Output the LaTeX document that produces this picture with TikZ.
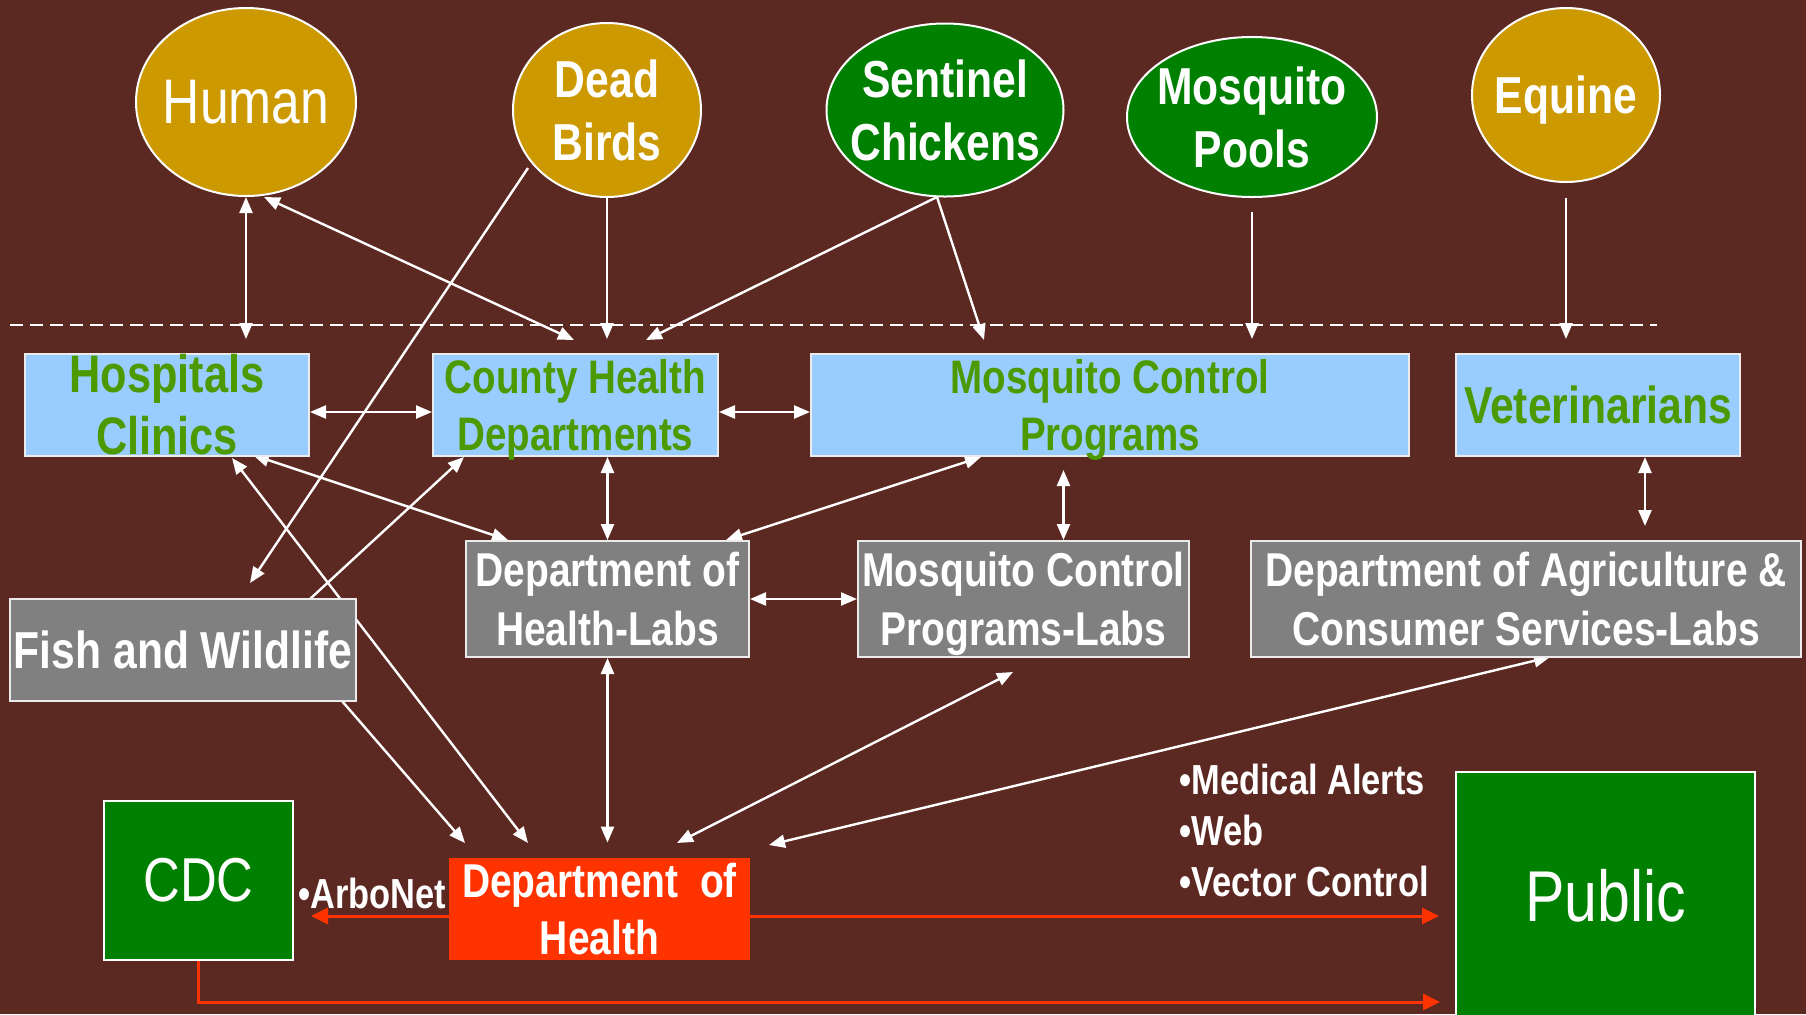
\documentclass[tikz,border=0pt]{standalone}
\usepackage{fontspec}
\newfontfamily\nar[FakeStretch=0.82]{Liberation Sans}
\usetikzlibrary{shapes.geometric,arrows.meta}
\definecolor{bgc}{RGB}{92,40,34}
\definecolor{gold}{RGB}{204,153,0}
\definecolor{dgreen}{RGB}{0,128,0}
\definecolor{lblue}{RGB}{153,204,255}
\definecolor{tgreen}{RGB}{76,153,0}
\definecolor{boxgray}{RGB}{128,128,128}
\definecolor{dohred}{RGB}{255,51,0}
\definecolor{edgec}{RGB}{235,235,235}
\newcommand\myfs[2]{\fontsize{#1}{#2}\selectfont}
\newcommand\nodp[1]{\raisebox{0pt}[\height][0pt]{#1}}
\pgfdeclarelayer{back}
\pgfdeclarelayer{lines}
\pgfsetlayers{back,lines,main}
\tikzset{
  ell/.style={ellipse, draw=white, line width=1pt, inner sep=-40pt, text=white, align=center},
  bluebox/.style={rectangle, draw=edgec, fill=lblue, line width=1pt, inner sep=-10pt, text=tgreen, align=center},
  graybox/.style={rectangle, draw=edgec, fill=boxgray, line width=1pt, inner sep=-10pt, text=white, align=center},
  ellfont/.style={font=\nar\bfseries\myfs{26}{31.5}},
  wl/.style={draw=white, line width=1.2pt},
  wboth/.style={wl, {Triangle[length=8pt,width=6.5pt]}-{Triangle[length=8pt,width=6.5pt]}},
  wone/.style={wl, -{Triangle[length=8pt,width=6.5pt]}},
  redl/.style={draw=dohred, line width=1.5pt},
  redarr/.style={redl, -{Triangle[length=8.5pt,width=8pt]}},
  lbl/.style={inner sep=0pt, text=white, font=\nar\bfseries\myfs{21}{25.5}}
}
\begin{document}
\begin{tikzpicture}[x=0.5pt, y=-0.5pt]
\useasboundingbox (0,0) rectangle (1806,1014);
\begin{pgfonlayer}{back}
\fill[bgc] (0,0) rectangle (1806,1014);
\end{pgfonlayer}

% top ellipses
\node[ell, fill=gold, minimum width=110pt, minimum height=94pt, font=\nar\myfs{31.5}{36}] (human) at (246,102) {Human};
\node[ell, ellfont, fill=gold, minimum width=94pt, minimum height=87pt] (birds) at (607,110) {Dead\\Birds};
\node[ell, ellfont, fill=dgreen, minimum width=118.5pt, minimum height=86.5pt] (sentinel) at (945,110) {Sentinel\\Chickens};
\node[ell, ellfont, fill=dgreen, minimum width=125pt, minimum height=80pt] (pools) at (1252,117) {Mosquito\\Pools};
\node[ell, ellfont, fill=gold, minimum width=94pt, minimum height=87pt, text depth=0pt] (equine) at (1566,95) {Equine};

% blue boxes
\node[bluebox, minimum width=142pt, minimum height=51pt, font=\nar\bfseries\myfs{26.4}{31}] (hosp) at (167,405) {Hospitals\\Clinics};
\node[bluebox, minimum width=142.5pt, minimum height=51pt, font=\nar\bfseries\myfs{23.5}{28.5}] (county) at (575.5,405) {County Health\\\nodp{Departments}};
\node[bluebox, minimum width=299pt, minimum height=51pt, font=\nar\bfseries\myfs{23.5}{28.5}] (mcp) at (1110,405) {Mosquito Control\\\nodp{Programs}};
\node[bluebox, minimum width=142pt, minimum height=51pt, font=\nar\bfseries\myfs{26}{31}] (vet) at (1598,405) {Veterinarians};

% gray boxes
\node[graybox, minimum width=141.5pt, minimum height=58pt, font=\nar\bfseries\myfs{23.75}{29.5}] (dhl) at (607.5,599) {Department of\\Health-Labs};
\node[graybox, minimum width=165.5pt, minimum height=58pt, font=\nar\bfseries\myfs{23.75}{29.5}] (mcpl) at (1023.5,599) {Mosquito Control\\\nodp{Programs-Labs}};
\node[graybox, minimum width=275pt, minimum height=58pt, font=\nar\bfseries\myfs{23.75}{29.5}] (dacs) at (1526,599) {Department of Agriculture \&\\Consumer Services-Labs};
\node[graybox, minimum width=173pt, minimum height=51pt, font=\nar\bfseries\myfs{26}{31}] (fish) at (183,650) {Fish and Wildlife};

% bottom boxes
\node[rectangle, fill=dgreen, draw=white, line width=1pt, inner sep=-10pt, minimum width=94.5pt, minimum height=79.5pt, text=white, font=\nar\myfs{31}{36}] (cdc) at (198.5,880.5) {CDC};
\node[rectangle, fill=dohred, inner sep=-10pt, minimum width=150.5pt, minimum height=51pt, text=white, align=center, font=\nar\bfseries\myfs{23.75}{28.5}] (doh) at (599.5,909) {Department\ \ of\\Health};
\node[rectangle, fill=dgreen, draw=white, line width=1pt, inner sep=-10pt, minimum width=149.5pt, minimum height=123.5pt, text=white, font=\nar\myfs{36}{40}] (public) at (1605.5,895.5) {Public};

% labels
\node[lbl, anchor=base west] (arbo) at (298,908) {•ArboNet};
\node[lbl, anchor=west, align=left] (alerts) at (1179,830.5) {•Medical Alerts\\•Web\\•Vector Control};

% coordinates
\coordinate (dashL) at (10,325);
\coordinate (dashR) at (1657,325);
\coordinate (bH) at (264,197);   \coordinate (bC) at (574,340);
\coordinate (sTail) at (937,197);
\coordinate (dC) at (646,340);   \coordinate (eM) at (984,340);
\coordinate (jB) at (528,168);   \coordinate (jF) at (250,583);
\coordinate (kF) at (310,599);   \coordinate (kC) at (464,457);
\coordinate (lH) at (253,455);   \coordinate (lD) at (508,540);
\coordinate (mH) at (232,458);   \coordinate (mD) at (528,843);
\coordinate (oM) at (981,457);   \coordinate (oD) at (726,540);
\coordinate (tF) at (342,701);   \coordinate (tD) at (465,843);
\coordinate (uL) at (1013,672);  \coordinate (uD) at (677,843);
\coordinate (vL) at (1550,657);  \coordinate (vD) at (769,845);
\coordinate (pM) at (1063.5,470);
\coordinate (rV) at (1645,457);
\coordinate (cdcpub) at (1440,1002);

\begin{pgfonlayer}{lines}
\draw[white, line width=1pt, dash pattern=on 6.5pt off 3.5pt] (dashL) -- (dashR);
% verticals from top
\draw[wboth, shorten >=7pt] (human.south) -- (human.south |- hosp.north);
\draw[wone, shorten >=7pt] (birds.south) -- (birds.south |- county.north);
\draw[wone, shorten <=7pt, shorten >=7pt] (pools.south) -- (pools.south |- mcp.north);
\draw[wone, shorten <=7.5pt, shorten >=7pt] (equine.south) -- (equine.south |- vet.north);
% diagonals from top
\draw[wboth] (bH) -- (bC);
\draw[wone] (sTail) -- (dC);
\draw[wone] (sTail) -- (eM);
\draw[wone] (jB) -- (jF);
% horizontal links
\draw[wboth] ([yshift=-3.5pt]hosp.east) -- ([yshift=-3.5pt]county.west);
\draw[wboth] ([yshift=-3.5pt]county.east) -- ([yshift=-3.5pt]mcp.west);
\draw[wboth] (dhl.east) -- (mcpl.west);
% middle
\draw[wone] (kF) -- (kC);
\draw[wboth] (lH) -- (lD);
\draw[wboth] (mH) -- (mD);
\draw[wboth] (dhl.north |- county.south) -- (dhl.north);
\draw[wboth] (oM) -- (oD);
\draw[wboth] (pM) -- (pM |- mcpl.north);
\draw[wboth, shorten >=7pt] (rV) -- (rV |- dacs.north);
% to Department of Health
\draw[wboth, shorten >=7.5pt] (dhl.south) -- (dhl.south |- doh.north);
\draw[wone] (tF) -- (tD);
\draw[wboth] (uL) -- (uD);
\draw[wboth] (vL) -- (vD);
% red
\draw[redarr, shorten >=8.5pt] ([yshift=-3.5pt]doh.west) -- ([yshift=-3.5pt]doh.west -| cdc.east);
\draw[redarr, shorten >=8pt] ([yshift=-3.5pt]doh.east) -- ([yshift=-3.5pt]doh.east -| public.west);
\draw[redarr] (cdc.south) |- (cdcpub);
\end{pgfonlayer}
\end{tikzpicture}
\end{document}
